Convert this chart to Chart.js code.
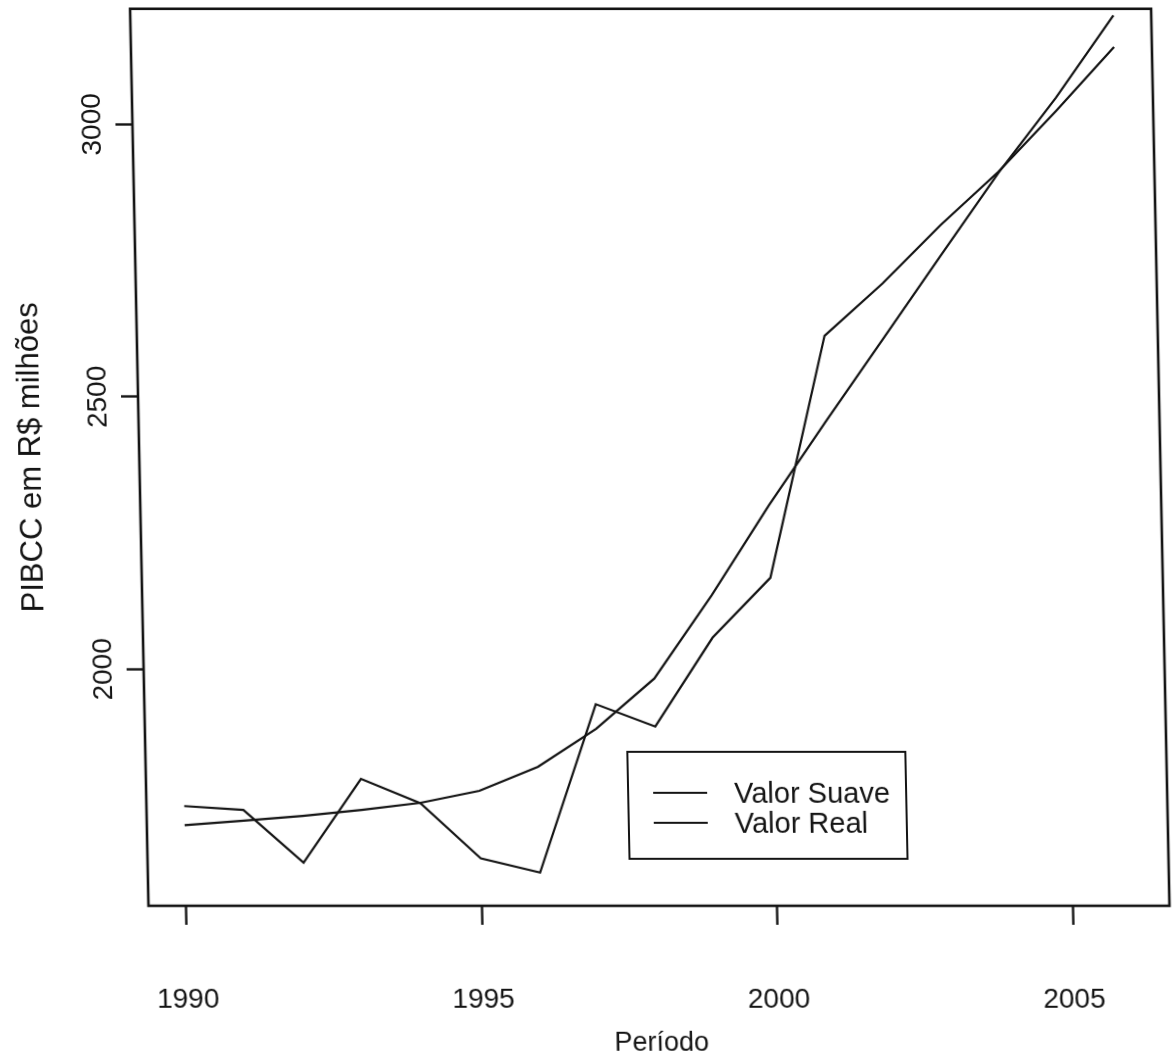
<!DOCTYPE html>
<html>
<head>
<meta charset="utf-8">
<title>PIBCC em R$ milhões</title>
<script src="https://cdn.jsdelivr.net/npm/chart.js@4.4.1/dist/chart.umd.min.js"></script>
<style>
  html, body { margin: 0; padding: 0; background: #fff; overflow: hidden; }
  /* the printed page is slightly sheared */
  #wrap { width: 1172px; height: 1057px; transform: skewX(1.175deg); transform-origin: 0 5px; }
  canvas { display: block; }
</style>
</head>
<body>
<div id="wrap"><canvas id="pibcc-chart" width="1172" height="1057"></canvas></div>
<script>
var anos = [1990, 1991, 1992, 1993, 1994, 1995, 1996, 1997, 1998, 1999, 2000, 2001, 2002, 2003, 2004, 2005, 2006];
var valorSuave = [1714, 1722, 1731, 1742, 1755, 1777, 1821, 1891, 1983, 2136, 2301, 2456, 2608, 2760, 2911, 3049, 3200];
var valorReal = [1749, 1742, 1645, 1799, 1754, 1653, 1627, 1936, 1895, 2058, 2168, 2612, 2708, 2815, 2913, 3025, 3142];
var ticksX = [1990, 1995, 2000, 2005];
var ticksY = [2000, 2500, 3000];

var fonte = '"Liberation Sans", Arial, sans-serif';
var preto = '#141414';

function pontos(vals) {
    return anos.map(function(a, i) { return {x: a, y: vals[i]}; });
}

// moldura completa em volta da area do grafico
var caixa = {
    id: 'caixa',
    afterDatasetsDraw: function(chart) {
        var a = chart.chartArea, ctx = chart.ctx;
        ctx.save();
        ctx.strokeStyle = preto;
        ctx.lineWidth = 2.6;
        ctx.strokeRect(a.left, a.top, a.right - a.left, a.bottom - a.top);
        ctx.restore();
    }
};

// legenda dentro do grafico, perto do canto inferior
var legenda = {
    id: 'legenda',
    afterDraw: function(chart) {
        var ctx = chart.ctx;
        var bx = 612, by = 752, bw = 278, bh = 107;
        ctx.save();
        ctx.fillStyle = '#fff';
        ctx.fillRect(bx, by, bw, bh);
        ctx.strokeStyle = preto;
        ctx.lineWidth = 2;
        ctx.strokeRect(bx, by, bw, bh);
        ctx.font = '29px ' + fonte;
        ctx.textBaseline = 'middle';
        ctx.textAlign = 'left';
        chart.data.datasets.forEach(function(ds, i) {
            var y = by + 41 + i * 30;
            ctx.strokeStyle = ds.borderColor;
            ctx.lineWidth = 2;
            ctx.beginPath();
            ctx.moveTo(bx + 25, y);
            ctx.lineTo(bx + 79, y);
            ctx.stroke();
            ctx.fillStyle = preto;
            ctx.fillText(ds.label, bx + 106, y + 2);
        });
        ctx.restore();
    }
};

new Chart(document.getElementById('pibcc-chart'), {
    type: 'line',
    data: {
        datasets: [{
            label: 'Valor Suave',
            data: pontos(valorSuave),
            borderColor: preto,
            borderWidth: 2.2,
            pointRadius: 0,
            tension: 0,
            fill: false
        }, {
            label: 'Valor Real',
            data: pontos(valorReal),
            borderColor: preto,
            borderWidth: 2.2,
            pointRadius: 0,
            tension: 0,
            fill: false
        }]
    },
    options: {
        responsive: false,
        animation: false,
        devicePixelRatio: 1,
        layout: { padding: { left: 0, right: 21, top: 6, bottom: 0 } },
        plugins: {
            legend: { display: false },
            tooltip: { enabled: false }
        },
        scales: {
            x: {
                type: 'linear',
                min: 1989.36,
                max: 2006.64,
                afterBuildTicks: function(scale) {
                    scale.ticks = ticksX.map(function(v) { return {value: v}; });
                },
                afterFit: function(scale) { scale.height = 151; },
                border: { display: false },
                grid: { drawOnChartArea: false, drawTicks: true, tickLength: 19, tickWidth: 2.4, tickColor: preto },
                ticks: {
                    autoSkip: false,
                    maxRotation: 0,
                    padding: 58,
                    color: preto,
                    font: { family: fonte, size: 28 },
                    callback: function(v) { return String(v); }
                },
                title: {
                    display: true,
                    text: 'Período',
                    color: preto,
                    font: { family: fonte, size: 27 },
                    padding: { top: 0, bottom: -3 }
                }
            },
            y: {
                type: 'linear',
                min: 1566,
                max: 3212,
                afterBuildTicks: function(scale) {
                    scale.ticks = ticksY.map(function(v) { return {value: v}; });
                },
                afterFit: function(scale) { scale.width = 130; },
                border: { display: false },
                grid: { drawOnChartArea: false, drawTicks: true, tickLength: 17, tickWidth: 2.4, tickColor: preto },
                ticks: {
                    autoSkip: false,
                    minRotation: 90,
                    maxRotation: 90,
                    crossAlign: 'center',
                    padding: -8,
                    color: preto,
                    font: { family: fonte, size: 28 },
                    callback: function(v) { return String(v); }
                },
                title: {
                    display: true,
                    text: 'PIBCC em R$ milhões',
                    color: preto,
                    font: { family: fonte, size: 31 },
                    padding: { top: 4, bottom: 0 }
                }
            }
        }
    },
    plugins: [caixa, legenda]
});
</script>
</body>
</html>
